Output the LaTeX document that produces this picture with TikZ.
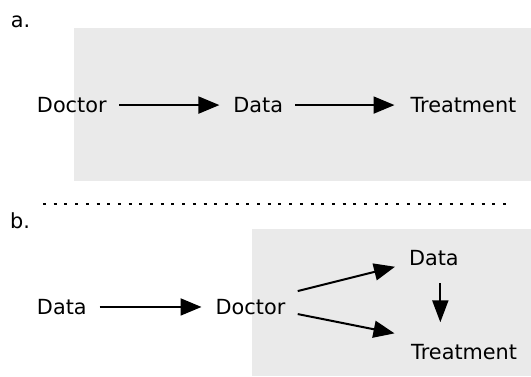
\documentclass[tikz,border=0pt]{standalone}
\usepackage{fontspec}
\setmainfont{DejaVu Sans}
\usetikzlibrary{arrows.meta}
\definecolor{panelgray}{RGB}{234,234,234}
\tikzset{
  lbl/.style={anchor=base west, inner sep=0pt, outer sep=0pt, font=\fontsize{20.8}{24}\selectfont},
  arr/.style={line width=2pt, -{Triangle[length=21pt,width=17pt]}},
  panel/.style={fill=panelgray, draw=none}
}
\begin{document}
\begin{tikzpicture}[x=1pt,y=-1pt]
\useasboundingbox (0,0) rectangle (531,376);
% panel backgrounds
\fill[panelgray] (74,28.4) rectangle (531,180.5);
\fill[panelgray] (251.6,228.5) rectangle (531,376);
% separator
\draw[line width=2pt, dash pattern=on 3pt off 7.7pt] (43,204.3) -- (507,204.3);
% panel a
\node[lbl] (la) at (10.8,27) {a.};
\node[lbl] (docA) at (37,112.5) {Doctor};
\node[lbl] (datA) at (233.4,112.5) {Data};
\node[lbl] (trtA) at (410.5,112.5) {Treatment};
\draw[arr] ([xshift=12.5pt]docA.east) -- ([xshift=-14pt]datA.west);
\draw[arr] ([xshift=12.3pt]datA.east) -- ([xshift=-16pt]trtA.west);
% panel b
\node[lbl] (lb) at (10.2,228) {b.};
\node[lbl] (datB) at (37,314.4) {Data};
\node[lbl] (docB) at (215.7,314.4) {Doctor};
\node[lbl] (datC) at (409,265) {Data};
\node[lbl] (trtB) at (411.2,359) {Treatment};
\draw[arr] ([xshift=13pt]datB.east) -- ([xshift=-14.2pt]docB.west);
\draw[arr] ([shift={(12.4,-15.9)}]docB.east) -- ([shift={(-14,9.2)}]datC.west);
\draw[arr] ([shift={(12.4,7.1)}]docB.east) -- ([shift={(-16.7,-18.2)}]trtB.west);
\draw[arr, -{Triangle[length=22pt,width=16pt]}] ([shift={(6.5,18)}]datC.south) -- ++(0,39);
\end{tikzpicture}
\end{document}
